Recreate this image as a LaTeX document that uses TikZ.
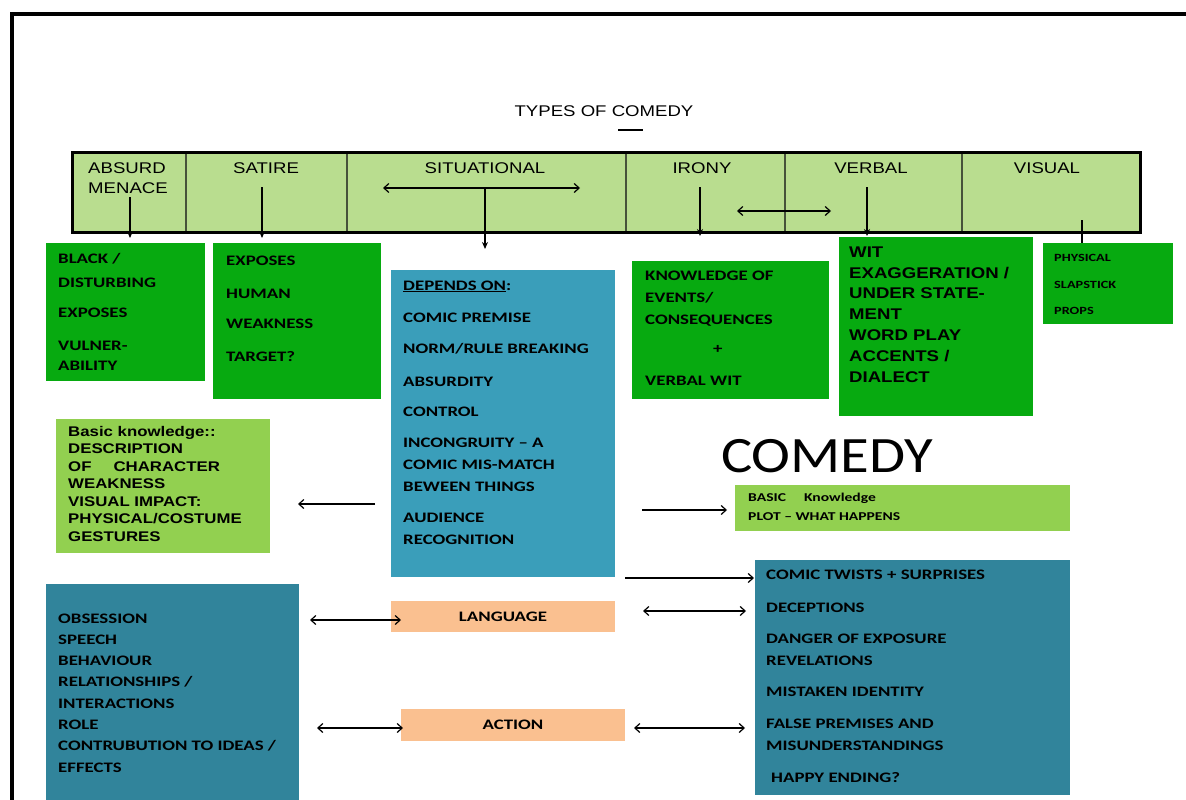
\documentclass[tikz,border=0pt]{standalone}
\usepackage{fontspec}
\setmainfont{Liberation Sans}[FakeStretch=1.2]
\newfontfamily\calf{Carlito}[FakeStretch=1.3]
\newfontfamily\comf{Carlito}[FakeStretch=1.15]
\usetikzlibrary{arrows.meta}
\definecolor{barg}{HTML}{B9DD8F}
\definecolor{bgreen}{HTML}{07AA10}
\definecolor{tealA}{HTML}{3A9EBA}
\definecolor{tealB}{HTML}{31849B}
\definecolor{lgreen}{HTML}{92D050}
\definecolor{peach}{HTML}{FAC090}
\definecolor{divc}{HTML}{46523A}
\newcommand\bx{\calf\bfseries\fontsize{14.5}{22}\selectfont}
\tikzset{
  box/.style={draw=none, inner sep=0pt, outer sep=0pt, anchor=north west},
  cell/.style={box, fill=barg, draw=divc, line width=2pt, minimum height=80pt},
  txt/.style={inner sep=0pt, anchor=north west, align=left, font=\bx},
  lab/.style={inner sep=0pt, font=\fontsize{15.5}{20}\selectfont},
  arr/.style={-{Straight Barb[length=5pt,width=9pt]}, line width=1.2pt},
  darr/.style={{Straight Barb[length=5pt,width=9pt]}-{Straight Barb[length=5pt,width=9pt]}, line width=1.2pt},
  down/.style={-{Stealth[length=7pt,width=6pt]}, line width=1.2pt},
}
\begin{document}
\begin{tikzpicture}[x=1pt,y=-1pt]
\useasboundingbox (0,0) rectangle (1186,800);
\clip (0,0) rectangle (1186,800);
\fill[white] (0,0) rectangle (1186,800);
% outer frame
\draw[line width=3.5pt] (12,840) -- (12,14) -- (1220,14);
% title
\node[lab] (title) at (604,111) {TYPES OF COMEDY};
\draw[line width=1.2pt] (618,130) -- (643,130);
% bar cells
\node[cell, minimum width=114pt] (c1) at (72,152) {};
\node[cell, minimum width=161pt] (c2) at (186,152) {};
\node[cell, minimum width=279pt] (c3) at (347,152) {};
\node[cell, minimum width=159pt] (c4) at (626,152) {};
\node[cell, minimum width=177pt] (c5) at (785,152) {};
\node[cell, minimum width=178pt] (c6) at (962,152) {};
\draw[line width=3pt] (c1.north west) rectangle (c6.south east);
\node[lab, anchor=north west, align=left] (l1) at (88,162.5) {ABSURD\\MENACE};
\node[lab] (l2) at (266,168) {SATIRE};
\node[lab] (l3) at (485,168) {SITUATIONAL};
\node[lab] (l4) at (702,168) {IRONY};
\node[lab] (l5) at (871,168) {VERBAL};
\node[lab] (l6) at (1047,168) {VISUAL};
% boxes
\node[box, fill=bgreen, minimum width=159pt, minimum height=138pt] (black) at (46,243) {};
\node[txt] (blackT) at (58,253.3) {BLACK /\\[2pt] DISTURBING\\[8pt] EXPOSES\\[11pt] VULNER-\\[-2pt] ABILITY};
\node[box, fill=bgreen, minimum width=168pt, minimum height=156pt] (sat) at (213,243) {};
\node[txt] (satT) at (226,255.3) {EXPOSES\\[11pt] HUMAN\\[8pt] WEAKNESS\\[11pt] TARGET?};
\node[box, fill=tealA, minimum width=224pt, minimum height=307pt] (dep) at (391,270) {};
\node[txt] (depT) at (403,280.3) {\underline{DEPENDS ON}:\\[10pt] COMIC PREMISE\\[9pt] NORM/RULE BREAKING\\[11pt] ABSURDITY\\[8pt] CONTROL\\[9pt] INCONGRUITY – A\\ COMIC MIS-MATCH\\ BEWEEN THINGS\\[9pt] AUDIENCE\\ RECOGNITION};
\node[box, fill=bgreen, minimum width=197pt, minimum height=138pt] (know) at (632,261) {};
\node[txt] (knowT) at (645,270.3) {KNOWLEDGE OF\\ EVENTS/\\ CONSEQUENCES\\[7pt] \hspace*{68pt}+\\[10pt] VERBAL WIT};
\node[box, fill=bgreen, minimum width=194pt, minimum height=179pt] (wit) at (839,237) {};
\node[txt, font=\bfseries\fontsize{15.5}{20.8}\selectfont] (witT) at (849,246.5) {WIT\\ EXAGGERATION /\\ UNDER STATE-\\ MENT\\ WORD PLAY\\ ACCENTS /\\ DIALECT};
\node[box, fill=bgreen, minimum width=130pt, minimum height=81pt] (phys) at (1043,243) {};
\node[txt, font=\calf\bfseries\fontsize{11}{26.5}\selectfont] (physT) at (1054,254.5) {PHYSICAL\\ SLAPSTICK\\ PROPS};
\node[box, fill=lgreen, minimum width=214pt, minimum height=134pt] (basic) at (56,419) {};
\node[txt, font=\bfseries\fontsize{14}{17.5}\selectfont] (basicT) at (68,426) {Basic knowledge::\\ DESCRIPTION\\ OF\hspace{22pt}CHARACTER\\ WEAKNESS\\ VISUAL IMPACT:\\ PHYSICAL/COSTUME\\ GESTURES};
\node[inner sep=0pt, font=\comf\fontsize{51}{51}\selectfont] (comedy) at (827,456) {COMEDY};
\node[box, fill=lgreen, minimum width=335pt, minimum height=46pt] (plot) at (735,485) {};
\node[txt, font=\calf\bfseries\fontsize{12}{19}\selectfont] (plotT) at (748,493) {BASIC\hspace{18pt}Knowledge\\ PLOT – WHAT HAPPENS};
\node[box, fill=tealB, minimum width=315pt, minimum height=235pt] (twist) at (755,560) {};
\node[txt] (twistT) at (766,569.3) {COMIC TWISTS + SURPRISES\\[11pt] DECEPTIONS\\[9pt] DANGER OF EXPOSURE\\ REVELATIONS\\[9pt] MISTAKEN IDENTITY\\[10pt] FALSE PREMISES AND\\ MISUNDERSTANDINGS\\[10pt] \hspace*{5pt}HAPPY ENDING?};
\node[box, fill=tealB, minimum width=253pt, minimum height=240pt] (char) at (46,584) {};
\node[txt, font=\calf\bfseries\fontsize{14.5}{21.3}\selectfont] (charT) at (58,613.3) {OBSESSION\\ SPEECH\\ BEHAVIOUR\\ RELATIONSHIPS /\\ INTERACTIONS\\ ROLE\\ CONTRUBUTION TO IDEAS /\\ EFFECTS};
\node[box, fill=peach, minimum width=224pt, minimum height=31pt, font=\bx] (lang) at (391,601) {LANGUAGE};
\node[box, fill=peach, minimum width=224pt, minimum height=32pt, font=\bx] (act) at (401,709) {ACTION};
% connector end points
\coordinate (a1s) at (130,197); \coordinate (a2s) at (262,187);
\coordinate (s1) at (383,188); \coordinate (s2) at (580,188); \coordinate (s3) at (485,188);
\coordinate (i1) at (700,187); \coordinate (v1) at (867,187);
\coordinate (iv1) at (737,211); \coordinate (iv2) at (831,211);
\coordinate (vis) at (1082,220);
\coordinate (d1) at (375,504); \coordinate (d2) at (298,504);
\coordinate (p1) at (642,510); \coordinate (p2) at (727,510);
\coordinate (t1) at (625,578); \coordinate (t2) at (754,578);
\coordinate (la1) at (310,620); \coordinate (la2) at (401,620);
\coordinate (lb1) at (643,611); \coordinate (lb2) at (746,611);
\coordinate (ac1) at (317,728); \coordinate (ac2) at (403,728);
\coordinate (ad1) at (634,728); \coordinate (ad2) at (745,728);
% connectors in bar
\draw[down, shorten >=5pt] (a1s) -- (a1s |- black.north);
\draw[down, shorten >=5pt] (a2s) -- (a2s |- sat.north);
\draw[darr] (s1) -- (s2);
\draw[down, shorten >=21pt] (s3) -- (s3 |- dep.north);
\draw[down] (i1) -- ([yshift=-4pt]i1 |- c4.south);
\draw[down] (v1) -- ([yshift=-4pt]v1 |- c5.south);
\draw[darr] (iv1) -- (iv2);
\draw[line width=1.2pt] (vis) -- (vis |- phys.north);
% other connectors
\draw[arr] (d1) -- (d2);
\draw[arr] (p1) -- (p2);
\draw[arr] (t1) -- (t2);
\draw[darr] (la1) -- (la2);
\draw[darr] (lb1) -- (lb2);
\draw[darr] (ac1) -- (ac2);
\draw[darr] (ad1) -- (ad2);
\end{tikzpicture}
\end{document}
